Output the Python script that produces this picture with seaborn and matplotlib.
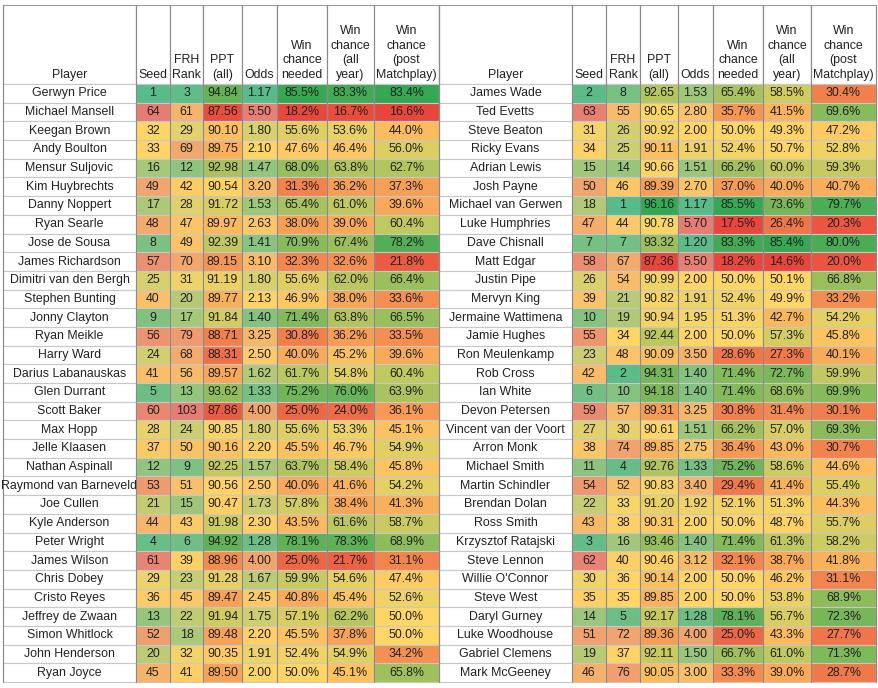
import numpy as np
import pandas as pd
import matplotlib
matplotlib.use("Agg")
import matplotlib.pyplot as plt
from matplotlib.colors import LinearSegmentedColormap, TwoSlopeNorm
from matplotlib.patches import Rectangle
import seaborn as sns

sns.set_style("white")
plt.rcParams['font.family'] = ['Liberation Sans', 'DejaVu Sans']

# ---- data ----
left_players = ["Gerwyn Price", "Michael Mansell", "Keegan Brown", "Andy Boulton", "Mensur Suljovic",
                "Kim Huybrechts", "Danny Noppert", "Ryan Searle", "Jose de Sousa", "James Richardson",
                "Dimitri van den Bergh", "Stephen Bunting", "Jonny Clayton", "Ryan Meikle", "Harry Ward",
                "Darius Labanauskas", "Glen Durrant", "Scott Baker", "Max Hopp", "Jelle Klaasen",
                "Nathan Aspinall", "Raymond van Barneveld", "Joe Cullen", "Kyle Anderson", "Peter Wright",
                "James Wilson", "Chris Dobey", "Cristo Reyes", "Jeffrey de Zwaan", "Simon Whitlock",
                "John Henderson", "Ryan Joyce"]
left_seed = [1, 64, 32, 33, 16, 49, 17, 48, 8, 57, 25, 40, 9, 56, 24, 41, 5, 60, 28, 37, 12, 53, 21, 44, 4, 61, 29, 36, 13, 52, 20, 45]
left_frh = [3, 61, 29, 69, 12, 42, 28, 47, 49, 70, 31, 20, 17, 79, 68, 56, 13, 103, 24, 50, 9, 51, 15, 43, 6, 39, 23, 45, 22, 18, 32, 41]
left_ppt = [94.84, 87.56, 90.10, 89.75, 92.98, 90.54, 91.72, 89.97, 92.39, 89.15, 91.19, 89.77, 91.84, 88.71, 88.31, 89.57,
            93.62, 87.86, 90.85, 90.16, 92.25, 90.56, 90.47, 91.98, 94.92, 88.96, 91.28, 89.47, 91.94, 89.48, 90.35, 89.50]
left_odds = [1.17, 5.50, 1.80, 2.10, 1.47, 3.20, 1.53, 2.63, 1.41, 3.10, 1.80, 2.13, 1.40, 3.25, 2.50, 1.62,
             1.33, 4.00, 1.80, 2.20, 1.57, 2.50, 1.73, 2.30, 1.28, 4.00, 1.67, 2.45, 1.75, 2.20, 1.91, 2.00]
left_needed = [85.5, 18.2, 55.6, 47.6, 68.0, 31.3, 65.4, 38.0, 70.9, 32.3, 55.6, 46.9, 71.4, 30.8, 40.0, 61.7,
               75.2, 25.0, 55.6, 45.5, 63.7, 40.0, 57.8, 43.5, 78.1, 25.0, 59.9, 40.8, 57.1, 45.5, 52.4, 50.0]
left_year = [83.3, 16.7, 53.6, 46.4, 63.8, 36.2, 61.0, 39.0, 67.4, 32.6, 62.0, 38.0, 63.8, 36.2, 45.2, 54.8,
             76.0, 24.0, 53.3, 46.7, 58.4, 41.6, 38.4, 61.6, 78.3, 21.7, 54.6, 45.4, 62.2, 37.8, 54.9, 45.1]
left_post = [83.4, 16.6, 44.0, 56.0, 62.7, 37.3, 39.6, 60.4, 78.2, 21.8, 66.4, 33.6, 66.5, 33.5, 39.6, 60.4,
             63.9, 36.1, 45.1, 54.9, 45.8, 54.2, 41.3, 58.7, 68.9, 31.1, 47.4, 52.6, 50.0, 50.0, 34.2, 65.8]

right_players = ["James Wade", "Ted Evetts", "Steve Beaton", "Ricky Evans", "Adrian Lewis", "Josh Payne",
                 "Michael van Gerwen", "Luke Humphries", "Dave Chisnall", "Matt Edgar", "Justin Pipe",
                 "Mervyn King", "Jermaine Wattimena", "Jamie Hughes", "Ron Meulenkamp", "Rob Cross",
                 "Ian White", "Devon Petersen", "Vincent van der Voort", "Arron Monk", "Michael Smith",
                 "Martin Schindler", "Brendan Dolan", "Ross Smith", "Krzysztof Ratajski", "Steve Lennon",
                 "Willie O'Connor", "Steve West", "Daryl Gurney", "Luke Woodhouse", "Gabriel Clemens",
                 "Mark McGeeney"]
right_seed = [2, 63, 31, 34, 15, 50, 18, 47, 7, 58, 26, 39, 10, 55, 23, 42, 6, 59, 27, 38, 11, 54, 22, 43, 3, 62, 30, 35, 14, 51, 19, 46]
right_frh = [8, 55, 26, 25, 14, 46, 1, 44, 7, 67, 54, 21, 19, 34, 48, 2, 10, 57, 30, 74, 4, 52, 33, 38, 16, 40, 36, 35, 5, 72, 37, 76]
right_ppt = [92.65, 90.65, 90.92, 90.11, 90.66, 89.39, 96.16, 90.78, 93.32, 87.36, 90.99, 90.82, 90.94, 92.44, 90.09, 94.31,
             94.18, 89.31, 90.61, 89.85, 92.76, 90.83, 91.20, 90.31, 93.46, 90.46, 90.14, 89.85, 92.17, 89.36, 92.11, 90.05]
right_odds = [1.53, 2.80, 2.00, 1.91, 1.51, 2.70, 1.17, 5.70, 1.20, 5.50, 2.00, 1.91, 1.95, 2.00, 3.50, 1.40,
              1.40, 3.25, 1.51, 2.75, 1.33, 3.40, 1.92, 2.00, 1.40, 3.12, 2.00, 2.00, 1.28, 4.00, 1.50, 3.00]
right_needed = [65.4, 35.7, 50.0, 52.4, 66.2, 37.0, 85.5, 17.5, 83.3, 18.2, 50.0, 52.4, 51.3, 50.0, 28.6, 71.4,
                71.4, 30.8, 66.2, 36.4, 75.2, 29.4, 52.1, 50.0, 71.4, 32.1, 50.0, 50.0, 78.1, 25.0, 66.7, 33.3]
right_year = [58.5, 41.5, 49.3, 50.7, 60.0, 40.0, 73.6, 26.4, 85.4, 14.6, 50.1, 49.9, 42.7, 57.3, 27.3, 72.7,
              68.6, 31.4, 57.0, 43.0, 58.6, 41.4, 51.3, 48.7, 61.3, 38.7, 46.2, 53.8, 56.7, 43.3, 61.0, 39.0]
right_post = [30.4, 69.6, 47.2, 52.8, 59.3, 40.7, 79.7, 20.3, 80.0, 20.0, 66.8, 33.2, 54.2, 45.8, 40.1, 59.9,
              69.9, 30.1, 69.3, 30.7, 44.6, 55.4, 44.3, 55.7, 58.2, 41.8, 31.1, 68.9, 72.3, 27.7, 71.3, 28.7]

headers = ["Player", "Seed", "FRH\nRank", "PPT\n(all)", "Odds", "Win\nchance\nneeded",
           "Win\nchance\n(all\nyear)", "Win\nchance\n(post\nMatchplay)"]

left = pd.DataFrame({"seed": left_seed, "frh": left_frh, "ppt": left_ppt, "odds": left_odds,
                     "needed": left_needed, "year": left_year, "post": left_post})
right = pd.DataFrame({"seed": right_seed, "frh": right_frh, "ppt": right_ppt, "odds": right_odds,
                      "needed": right_needed, "year": right_year, "post": right_post})
both = pd.concat([left, right])

# colour scales: light palette (low = good) and strong palette (high = good)
light = LinearSegmentedColormap.from_list("light", ["#57bb8a", "#ffd666", "#e67c73"])
strong = LinearSegmentedColormap.from_list("strong", ["#e8453c", "#ffd666", "#35a853"])
col_cmap = {"seed": light, "frh": light, "odds": light,
            "ppt": strong, "needed": strong, "year": strong, "post": strong}
norms = {c: TwoSlopeNorm(vcenter=both[c].median(), vmin=both[c].min(), vmax=both[c].max()) for c in both.columns}
fmts = {"seed": "{:d}", "frh": "{:d}", "ppt": "{:.2f}", "odds": "{:.2f}",
        "needed": "{:.1f}%", "year": "{:.1f}%", "post": "{:.1f}%"}

# ---- layout (pixel coords) ----
fig = plt.figure(figsize=(8.79, 6.88), dpi=100)
ax = fig.add_axes([0, 0, 1, 1])
ax.set_xlim(0, 879)
ax.set_ylim(688, 0)
ax.axis("off")

left_edges = [3, 136, 170, 203, 242, 277, 327, 374, 439]
right_edges = [439, 572, 606, 640, 678, 713, 763, 811, 876]
y_top, y_head, y_bot = 5, 84, 682
n = len(left_players)
rh = (y_bot - y_head) / n
fs = 8.9


def draw_table(edges, players, df):
    for j, h in enumerate(headers):
        ax.add_patch(Rectangle((edges[j], y_top), edges[j + 1] - edges[j], y_head - y_top,
                               facecolor="white", edgecolor="#9a9a9a", lw=0.8))
        ax.text((edges[j] + edges[j + 1]) / 2, y_head - 3, h, ha="center", va="bottom",
                fontsize=fs, color="#222222", linespacing=1.3)
    for i in range(n):
        y0 = y_head + i * rh
        ax.add_patch(Rectangle((edges[0], y0), edges[1] - edges[0], rh,
                               facecolor="white", edgecolor="#c8c8c8", lw=0.8))
        ax.text((edges[0] + edges[1]) / 2, y0 + rh / 2, players[i], ha="center", va="center",
                fontsize=fs, color="#222222")
        for j, c in enumerate(df.columns):
            v = df[c].iloc[i]
            color = col_cmap[c](norms[c](v))
            x0, x1 = edges[j + 1], edges[j + 2]
            ax.add_patch(Rectangle((x0, y0), x1 - x0, rh, facecolor=color, edgecolor="#c8c8c8", lw=0.8))
            ax.text((x0 + x1) / 2, y0 + rh / 2, fmts[c].format(v), ha="center", va="center",
                    fontsize=fs, color="#222222")
    for x in edges:
        ax.plot([x, x], [y_top, y_bot], color="#8a8a8a", lw=0.8)


draw_table(left_edges, left_players, left)
draw_table(right_edges, right_players, right)

plt.savefig("out.png", dpi=100)
